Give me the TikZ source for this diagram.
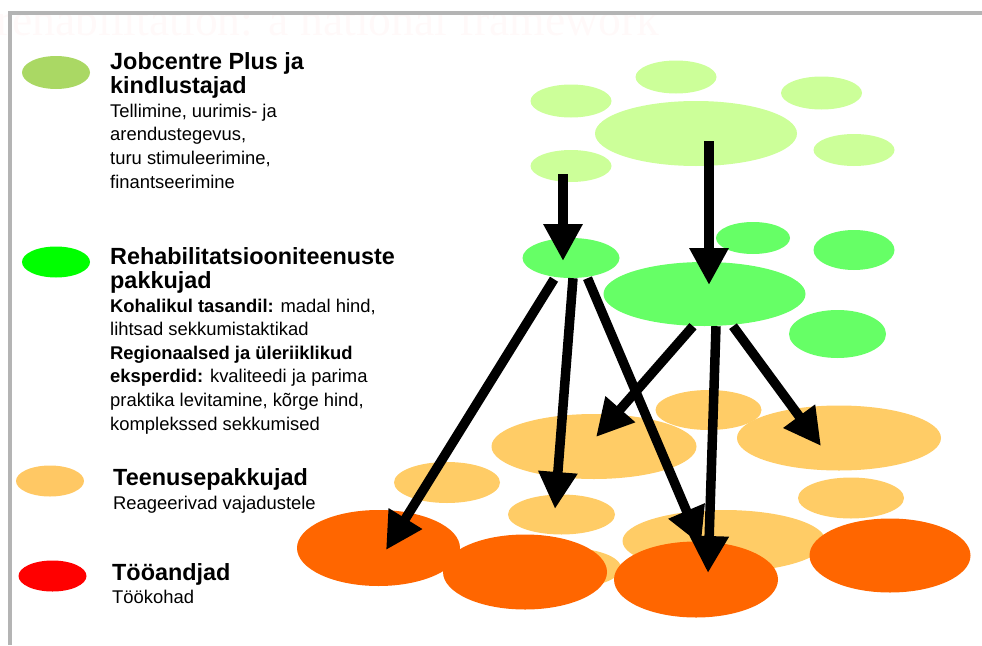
\documentclass[tikz,border=0pt]{standalone}
\usepackage{fontspec}
\setmainfont{Liberation Sans}
\newfontfamily\ghostserif{Liberation Serif}
\usepackage{tikz}
\usetikzlibrary{shapes.geometric,arrows.meta}
\definecolor{paleleaf}{RGB}{204,255,153}
\definecolor{leaf}{RGB}{102,255,102}
\definecolor{sand}{RGB}{255,204,102}
\definecolor{rust}{RGB}{255,102,0}
\definecolor{keylime}{RGB}{170,216,100}
\definecolor{keygreen}{RGB}{0,255,0}
\definecolor{keysand}{RGB}{255,200,100}
\definecolor{keyred}{RGB}{255,0,0}
\definecolor{framegray}{RGB}{180,180,180}
\definecolor{ghost}{RGB}{255,249,249}
\tikzset{blob/.style 2 args={ellipse,inner sep=0pt,minimum width=#1,minimum height=#2}}
\tikzstyle{arrow} = [line width=9.5pt,-{Triangle[length=37pt,width=37pt]}]
\tikzstyle{keyhead} = [anchor=base west,align=left,inner sep=0pt,font=\fontsize{23.4}{24}\selectfont\bfseries]
\tikzstyle{keytext} = [anchor=base west,align=left,inner sep=0pt,font=\fontsize{18.4}{23.6}\selectfont]

\begin{document}
\begin{tikzpicture}[x=1pt,y=-1pt]
	\useasboundingbox (0,0) rectangle (982,645);
	\begin{scope}
		\clip (0,13) rectangle (982,60);
		\node[anchor=base west,inner sep=0pt,text=ghost,font=\fontsize{45.7}{46}\ghostserif] (ghosttitle) at (-3.2,35) {rehabilitation: a national framework};
	\end{scope}
	\draw[framegray,line width=4pt] (8,13) -- (982,13);
	\draw[framegray,line width=4pt] (10,11) -- (10,645);

	\node[blob={68}{33},fill=keylime] (key1) at (56,72.5) {};
	\node[blob={68}{31},fill=keygreen] (key2) at (56,262) {};
	\node[blob={68}{31},fill=keysand] (key3) at (50,481) {};
	\node[blob={68}{31},fill=keyred] (key4) at (52.5,576) {};
	\node[keyhead] (head1) at (110,93.3) {Jobcentre Plus ja\\kindlustajad};
	\node[keytext] (text1) at (110,188) {Tellimine, uurimis- ja\\arendustegevus,\\turu stimuleerimine,\\finantseerimine};
	\node[keyhead] (head2) at (110,288) {Rehabilitatsiooniteenuste\\pakkujad};
	\node[keytext] (text2) at (110,430) {\textbf{Kohalikul tasandil:} madal hind,\\lihtsad sekkumistaktikad\\\textbf{Regionaalsed ja üleriiklikud}\\\textbf{eksperdid:} kvaliteedi ja parima\\praktika levitamine, kõrge hind,\\komplekssed sekkumised};
	\node[keyhead] (head3) at (113,485) {Teenusepakkujad};
	\node[keytext] (text3) at (113,509) {Reageerivad vajadustele};
	\node[keyhead] (head4) at (112,580) {Tööandjad};
	\node[keytext] (text4) at (112,603) {Töökohad};

	\node[blob={81}{33},fill=paleleaf] (t1) at (676,77) {};
	\node[blob={81}{33},fill=paleleaf] (t2) at (571,101) {};
	\node[blob={81}{33},fill=paleleaf] (t3) at (821.5,93) {};
	\node[blob={202}{65},fill=paleleaf] (t4) at (696,133.5) {};
	\node[blob={81}{32},fill=paleleaf] (t5) at (854,150) {};
	\node[blob={81}{32},fill=paleleaf] (t6) at (571,166) {};

	\node[blob={97}{40},fill=leaf] (r1) at (571,258) {};
	\node[blob={74}{32},fill=leaf] (r2) at (753,238) {};
	\node[blob={81}{40},fill=leaf] (r3) at (854,250) {};
	\node[blob={202}{64},fill=leaf] (r4) at (704.5,294) {};
	\node[blob={97}{48},fill=leaf] (r5) at (837.5,334) {};

	\node[blob={106}{41},fill=sand] (s1) at (447,482.5) {};
	\node[blob={205}{65},fill=sand] (s2) at (594,446.5) {};
	\node[blob={106}{40},fill=sand] (s3) at (708.5,410) {};
	\node[blob={204}{65},fill=sand] (s4) at (839,438) {};
	\node[blob={107}{40},fill=sand] (s5) at (561.5,514.5) {};
	\node[blob={106}{41},fill=sand] (s6) at (851,498) {};
	\node[blob={203}{62},fill=sand] (s7) at (724,541) {};
	\node[blob={106}{40},fill=sand] (s8) at (568,568) {};

	\node[blob={163}{76},fill=rust] (o1) at (378.5,548) {};
	\node[blob={164}{75},fill=rust] (o2) at (525,572) {};
	\node[blob={164}{76},fill=rust] (o3) at (696,579.5) {};
	\node[blob={161}{74},fill=rust] (o4) at (890,555.5) {};

	\draw[arrow] ([shift={(-8,8)}]t6.center) -- ([shift={(-8,3)}]r1.center);
	\draw[arrow] ([shift={(13,7.5)}]t4.center) -- ([shift={(4.5,-9)}]r4.center);
	\draw[arrow] ([shift={(-17,1)}]r1.south) -- ([shift={(7.5,2)}]o1.center);
	\draw[arrow] ([shift={(2,0)}]r1.south) -- ([shift={(-6.5,-5.5)}]s5.center);
	\draw[arrow] ([shift={(16.5,0)}]r1.south) -- ([shift={(5,-34.5)}]o3.center);
	\draw[arrow] ([shift={(-11.5,0)}]r4.south) -- ([shift={(2,-9.5)}]s2.center);
	\draw[arrow] ([shift={(11.5,0)}]r4.south) -- ([shift={(12,-6.5)}]o3.center);
	\draw[arrow] ([shift={(28.5,0)}]r4.south) -- ([shift={(-18,8)}]s4.center);
\end{tikzpicture}
\end{document}
